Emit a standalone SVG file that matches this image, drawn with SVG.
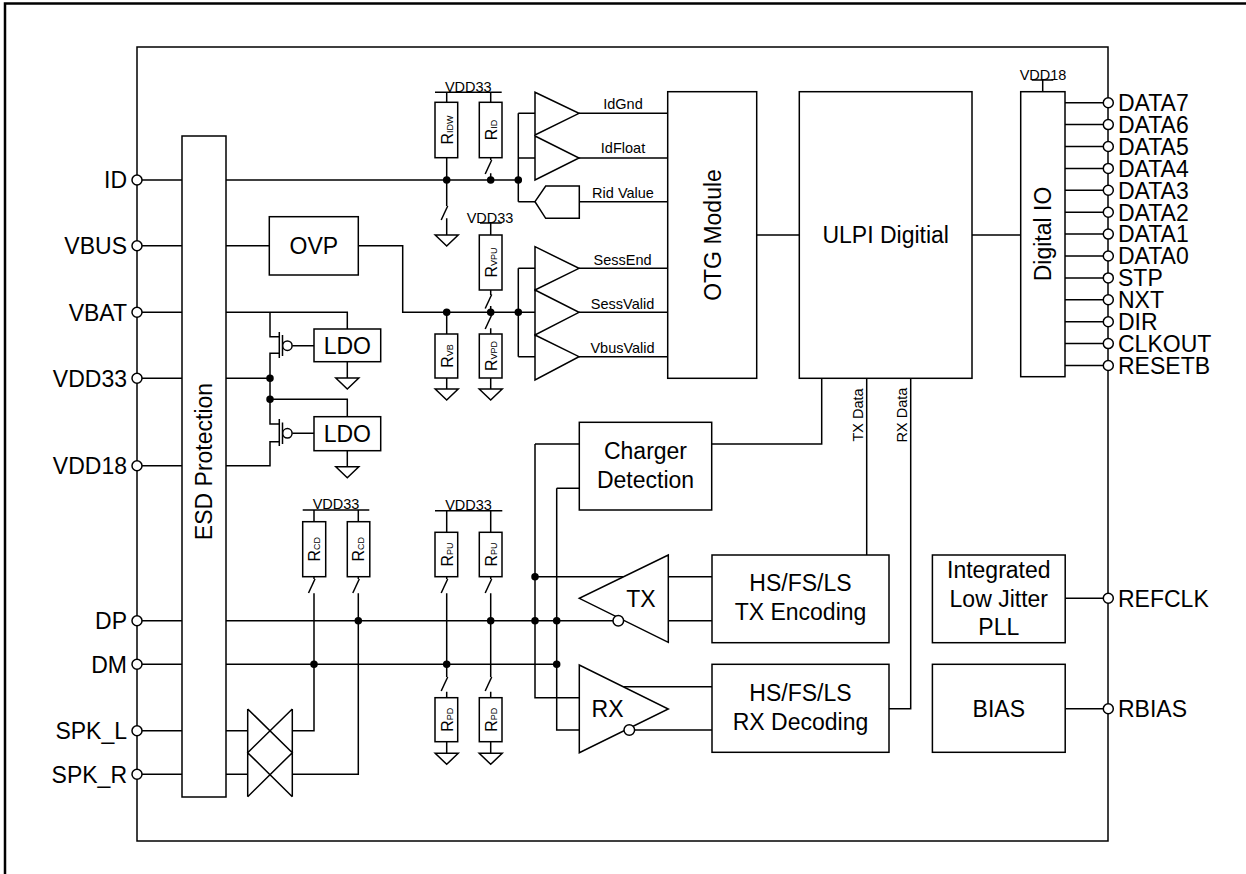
<svg xmlns="http://www.w3.org/2000/svg" xmlns:xlink="http://www.w3.org/1999/xlink" width="1246" height="874" viewBox="0 0 1246 874">
<style>
.w{fill:none;stroke:#000;stroke-width:1.5}
.b{fill:#fff;stroke:#000;stroke-width:1.5}
.d{fill:#000}
.p{fill:#fff;stroke:#000;stroke-width:1.5}
text{font-family:"Liberation Sans",Arial,sans-serif;fill:#000}
.t{font-size:23px}
.s{font-size:14.5px}
.r{font-size:16px}
.m{text-anchor:middle}
.e{text-anchor:end}
</style>
<defs>
<path id="gnd" d="M-11.5,0 H11.5 L0,11 Z" class="w"/>
<path id="sw" d="M1,0 L-5.5,14" class="w"/>
<circle id="pin" r="5" class="p"/>
<circle id="dot" r="3" class="d"/>
</defs>
<rect width="1246" height="874" fill="#fff"/>
<path d="M5,874 V3.5 H1246" fill="none" stroke="#000" stroke-width="2.5"/>
<rect id="chip" x="137" y="47" width="971" height="794" class="w"/>

<g id="connectors" class="w">
<!-- left pins -->
<path d="M142,180 H182 M142,245.7 H182 M142,312.3 H182 M142,378.3 H182 M142,465.7 H182 M142,620.7 H182 M142,664.3 H182 M142,730.7 H182 M142,774.3 H182"/>
<!-- ID -->
<path d="M226,180 H518.3"/>
<!-- VBUS -->
<path d="M226,245.7 H269.3 M358.3,245.7 H402.7 V312.3 H535"/>
<!-- VBAT / LDO -->
<path d="M226,312.3 H347.3 V329 M270,312.3 V336.7 H279.3 M279.3,332 V358 M279.3,353.3 H270 V424 H279.3 M279.3,419 V446 M279.3,441.7 H270 V465.7 H226 M226,378.3 H270 M270,399.3 H347.3 V416.7"/>
<path d="M282.5,335 V356 M282.5,422.5 V444 M292.3,345.7 H314 M292.3,433.3 H314"/>
<path d="M347.3,361.7 V378 M347.3,450.7 V466.7"/>
<!-- ID resistors -->
<path d="M435,92.3 H501.7 M446.7,92.3 V102.3 M490.7,92.3 V102.3 M446.7,157.7 V206 M446.7,218.3 V235 M490.7,157.7 V160 M490.7,173.3 V180"/>
<!-- comparator inputs -->
<path d="M518.3,113.3 V201.7 M518.3,113.3 H535 M518.3,158 H535 M518.3,201.7 H535 M518.3,268.3 V356.7 M518.3,268.3 H535 M518.3,356.7 H535"/>
<!-- comparator outputs -->
<path d="M579,113.3 H667.7 M579,158 H667.7 M579.3,201.7 H667.7 M579,268.3 H667.7 M579,312.3 H667.7 M579,356.7 H667.7"/>
<!-- VBUS resistors -->
<path d="M480,223 H501.7 M490.7,223 V235 M490.7,290 V295 M490.7,306 V315 M490.7,328.3 V334 M490.7,378 V389 M446.7,312.3 V334 M446.7,378 V389"/>
<!-- DP DM -->
<path d="M226,620.7 H613 M226,664.3 H556.7"/>
<!-- RCD -->
<path d="M302.7,510 H369.3 M314,510 V521.7 M358.3,510 V521.7 M314,576.7 V579 M358.3,576.7 V579 M314,593.3 V730.7 H292.3 M358.3,593.3 V774.3 H292.3"/>
<!-- X switch -->
<path d="M226,730.7 H247.7 M226,774.3 H247.7 M247.7,709 V796.7 M292.3,709 V796.7 M247.7,709 L292.3,752.7 L247.7,796.7 M292.3,709 L247.7,752.7 L292.3,796.7"/>
<!-- RPU / RPD -->
<path d="M435,510.7 H502.3 M446.7,510.7 V532.3 M490.7,510.7 V532.3 M446.7,576.7 V579 M490.7,576.7 V579 M446.7,593.3 V677 M490.7,593.3 V677 M446.7,691.7 V697.7 M490.7,691.7 V697.7 M446.7,741.7 V753.3 M490.7,741.7 V753.3"/>
<!-- charger / TX / RX -->
<path d="M535,444 H579.3 M535,444 V697.7 H579.3 M556.7,488.3 H579.3 M556.7,488.3 V730 H579.3 M535,576.7 H623.8 M668.3,576.7 H712 M668.3,620.7 H712 M623.2,686.7 H712 M634.6,730 H712"/>
<path d="M711.7,444 H821.7 V378.3 M866.7,378.3 V555 M910.7,378.3 V708.7 H889"/>
<!-- digital -->
<path d="M756.7,235 H799.3 M972,235 H1020.7 M1031.7,80 H1053.3 M1042.7,80 V91.7"/>
<path d="M1065,102.7 H1103.3 M1065,124.6 H1103.3 M1065,146.5 H1103.3 M1065,168.4 H1103.3 M1065,190.3 H1103.3 M1065,212.2 H1103.3 M1065,234.1 H1103.3 M1065,256 H1103.3 M1065,277.9 H1103.3 M1065,299.8 H1103.3 M1065,321.7 H1103.3 M1065,343.6 H1103.3 M1065,365.5 H1103.3"/>
<path d="M1065.2,598.3 H1103.3 M1065.2,708.7 H1103.3"/>
<!-- switches -->
<use xlink:href="#sw" x="446.7" y="206"/>
<use xlink:href="#sw" x="490.7" y="160"/>
<use xlink:href="#sw" x="490.7" y="294.5"/>
<use xlink:href="#sw" x="490.7" y="315"/>
<use xlink:href="#sw" x="314" y="579"/>
<use xlink:href="#sw" x="358.3" y="579"/>
<use xlink:href="#sw" x="446.7" y="579"/>
<use xlink:href="#sw" x="490.7" y="579"/>
<use xlink:href="#sw" x="446.7" y="677"/>
<use xlink:href="#sw" x="490.7" y="677"/>
<!-- grounds -->
<use xlink:href="#gnd" x="347.3" y="378"/>
<use xlink:href="#gnd" x="347.3" y="466.7"/>
<use xlink:href="#gnd" x="446.7" y="235"/>
<use xlink:href="#gnd" x="446.7" y="389"/>
<use xlink:href="#gnd" x="490.7" y="389"/>
<use xlink:href="#gnd" x="446.7" y="753.3"/>
<use xlink:href="#gnd" x="490.7" y="753.3"/>
<!-- dots -->
<use xlink:href="#dot" x="270" y="378.3"/>
<use xlink:href="#dot" x="270" y="399.3"/>
<use xlink:href="#dot" x="446.7" y="180"/>
<use xlink:href="#dot" x="490.7" y="180"/>
<use xlink:href="#dot" x="518.3" y="180"/>
<use xlink:href="#dot" x="446.7" y="312.3"/>
<use xlink:href="#dot" x="490.7" y="312.3"/>
<use xlink:href="#dot" x="518.3" y="312.3"/>
<use xlink:href="#dot" x="314" y="664.3"/>
<use xlink:href="#dot" x="358.3" y="620.7"/>
<use xlink:href="#dot" x="446.7" y="664.3"/>
<use xlink:href="#dot" x="490.7" y="620.7"/>
<use xlink:href="#dot" x="535" y="576.7"/>
<use xlink:href="#dot" x="535" y="620.7"/>
<use xlink:href="#dot" x="556.7" y="620.7"/>
<use xlink:href="#dot" x="556.7" y="664.3"/>
</g>

<g id="pins-left">
<use xlink:href="#pin" x="137" y="180"/><text class="t e" x="127" y="188">ID</text>
<use xlink:href="#pin" x="137" y="245.7"/><text class="t e" x="127" y="254">VBUS</text>
<use xlink:href="#pin" x="137" y="312.3"/><text class="t e" x="127" y="320.5">VBAT</text>
<use xlink:href="#pin" x="137" y="378.3"/><text class="t e" x="127" y="386.5">VDD33</text>
<use xlink:href="#pin" x="137" y="465.7"/><text class="t e" x="127" y="474">VDD18</text>
<use xlink:href="#pin" x="137" y="620.7"/><text class="t e" x="127" y="629">DP</text>
<use xlink:href="#pin" x="137" y="664.3"/><text class="t e" x="127" y="672.5">DM</text>
<use xlink:href="#pin" x="137" y="730.7"/><text class="t e" x="127" y="739">SPK_L</text>
<use xlink:href="#pin" x="137" y="774.3"/><text class="t e" x="127" y="782.5">SPK_R</text>
</g>

<g id="pins-right">
<use xlink:href="#pin" x="1108.3" y="102.7"/><text class="t" x="1118" y="111">DATA7</text>
<use xlink:href="#pin" x="1108.3" y="124.6"/><text class="t" x="1118" y="132.9">DATA6</text>
<use xlink:href="#pin" x="1108.3" y="146.5"/><text class="t" x="1118" y="154.8">DATA5</text>
<use xlink:href="#pin" x="1108.3" y="168.4"/><text class="t" x="1118" y="176.7">DATA4</text>
<use xlink:href="#pin" x="1108.3" y="190.3"/><text class="t" x="1118" y="198.6">DATA3</text>
<use xlink:href="#pin" x="1108.3" y="212.2"/><text class="t" x="1118" y="220.5">DATA2</text>
<use xlink:href="#pin" x="1108.3" y="234.1"/><text class="t" x="1118" y="242.4">DATA1</text>
<use xlink:href="#pin" x="1108.3" y="256"/><text class="t" x="1118" y="264.3">DATA0</text>
<use xlink:href="#pin" x="1108.3" y="277.9"/><text class="t" x="1118" y="286.2">STP</text>
<use xlink:href="#pin" x="1108.3" y="299.8"/><text class="t" x="1118" y="308.1">NXT</text>
<use xlink:href="#pin" x="1108.3" y="321.7"/><text class="t" x="1118" y="330">DIR</text>
<use xlink:href="#pin" x="1108.3" y="343.6"/><text class="t" x="1118" y="351.9">CLKOUT</text>
<use xlink:href="#pin" x="1108.3" y="365.5"/><text class="t" x="1118" y="373.8">RESETB</text>
<use xlink:href="#pin" x="1108.3" y="598.3"/><text class="t" x="1118" y="606.6">REFCLK</text>
<use xlink:href="#pin" x="1108.3" y="708.7"/><text class="t" x="1118" y="717">RBIAS</text>
</g>

<g id="esd"><rect x="182" y="136" width="44" height="661" class="b"/><text class="t m" transform="translate(211.5,461.5) rotate(-90)">ESD Protection</text></g>
<g id="ovp"><rect x="269.3" y="216.7" width="89" height="58.3" class="b"/><text class="t m" x="313.8" y="254.3">OVP</text></g>
<g id="ldo1"><rect x="314" y="329" width="66.7" height="32.7" class="b"/><text class="t m" x="347.3" y="354">LDO</text><circle cx="287.4" cy="345.7" r="4.7" class="p"/></g>
<g id="ldo2"><rect x="314" y="416.7" width="66.7" height="34" class="b"/><text class="t m" x="347.3" y="442">LDO</text><circle cx="287.4" cy="433.3" r="4.7" class="p"/></g>

<g id="vdd33-a"><text class="s m" x="468.3" y="91.5">VDD33</text></g>
<g id="vdd33-b"><text class="s m" x="490" y="222.5">VDD33</text></g>
<g id="vdd33-c"><text class="s m" x="336" y="509.3">VDD33</text></g>
<g id="vdd33-d"><text class="s m" x="468.5" y="509.8">VDD33</text></g>
<g id="vdd18"><text class="s m" x="1043" y="79.8">VDD18</text></g>

<g id="r-idw"><rect x="435" y="102.3" width="22.7" height="55.4" class="b"/><text class="r m" transform="translate(452.5,130) rotate(-90)">R<tspan font-size="9">IDW</tspan></text></g>
<g id="r-id"><rect x="479.3" y="102.3" width="22.7" height="55.4" class="b"/><text class="r m" transform="translate(496.5,130) rotate(-90)">R<tspan font-size="9">ID</tspan></text></g>
<g id="r-vpu"><rect x="479.3" y="235" width="22.7" height="55" class="b"/><text class="r m" transform="translate(496.5,262.5) rotate(-90)">R<tspan font-size="9">VPU</tspan></text></g>
<g id="r-vb"><rect x="435" y="334" width="22.7" height="44" class="b"/><text class="r m" transform="translate(452.5,356) rotate(-90)">R<tspan font-size="9">VB</tspan></text></g>
<g id="r-vpd"><rect x="479.3" y="334" width="22.7" height="44" class="b"/><text class="r m" transform="translate(496.5,356) rotate(-90)">R<tspan font-size="9">VPD</tspan></text></g>
<g id="r-cd1"><rect x="302.7" y="521.7" width="23" height="55" class="b"/><text class="r m" transform="translate(320,549.2) rotate(-90)">R<tspan font-size="9">CD</tspan></text></g>
<g id="r-cd2"><rect x="347.3" y="521.7" width="22.5" height="55" class="b"/><text class="r m" transform="translate(364.3,549.2) rotate(-90)">R<tspan font-size="9">CD</tspan></text></g>
<g id="r-pu1"><rect x="435" y="532.3" width="22.7" height="44.4" class="b"/><text class="r m" transform="translate(452.5,554.5) rotate(-90)">R<tspan font-size="9">PU</tspan></text></g>
<g id="r-pu2"><rect x="479.3" y="532.3" width="22.7" height="44.4" class="b"/><text class="r m" transform="translate(496.5,554.5) rotate(-90)">R<tspan font-size="9">PU</tspan></text></g>
<g id="r-pd1"><rect x="435" y="697.7" width="22.7" height="44" class="b"/><text class="r m" transform="translate(452.5,719.7) rotate(-90)">R<tspan font-size="9">PD</tspan></text></g>
<g id="r-pd2"><rect x="479.3" y="697.7" width="22.7" height="44" class="b"/><text class="r m" transform="translate(496.5,719.7) rotate(-90)">R<tspan font-size="9">PD</tspan></text></g>

<g id="cmp-idgnd"><path d="M535,92.3 L579,113.3 L535,135 Z" class="b"/><text class="s m" x="623" y="108.5">IdGnd</text></g>
<g id="cmp-idfloat"><path d="M535,136 L579,158 L535,180 Z" class="b"/><text class="s m" x="623" y="153.3">IdFloat</text></g>
<g id="rid-value"><path d="M535,201.7 L545.7,186 H579.3 V218.3 H545.7 Z" class="b"/><text class="s m" x="623" y="197.5">Rid Value</text></g>
<g id="cmp-sessend"><path d="M535,246.7 L579,268.3 L535,290 Z" class="b"/><text class="s m" x="622.5" y="264.5">SessEnd</text></g>
<g id="cmp-sessvalid"><path d="M535,290 L579,312.3 L535,335 Z" class="b"/><text class="s m" x="622.5" y="308.5">SessValid</text></g>
<g id="cmp-vbusvalid"><path d="M535,335 L579,356.7 L535,380 Z" class="b"/><text class="s m" x="622.5" y="352.7">VbusValid</text></g>

<g id="otg"><rect x="667.7" y="91.7" width="89" height="286.6" class="b"/><text class="t m" transform="translate(720.5,235) rotate(-90)">OTG Module</text></g>
<g id="ulpi"><rect x="799.3" y="91.7" width="172.7" height="286.6" class="b"/><text class="t m" x="885.7" y="243">ULPI Digitial</text></g>
<g id="digio"><rect x="1020.7" y="91.7" width="44.3" height="285" class="b"/><text class="t m" transform="translate(1051,234) rotate(-90)">Digital IO</text></g>
<g id="txdata-label"><text class="s m" transform="translate(863,415) rotate(-90)">TX Data</text></g>
<g id="rxdata-label"><text class="s m" transform="translate(906.7,415) rotate(-90)">RX Data</text></g>

<g id="charger"><rect x="579.3" y="422.3" width="132.4" height="87.7" class="b"/><text class="t m" x="645.5" y="458.5">Charger</text><text class="t m" x="645.5" y="488.3">Detection</text></g>
<g id="tx"><path d="M668.3,555 V642.3 L579.3,598.3 Z" class="b"/><circle cx="618.3" cy="620.7" r="5.3" class="p"/><text class="t m" x="641" y="606.7">TX</text></g>
<g id="rx"><path d="M579.3,665 V752.7 L668.3,709 Z" class="b"/><circle cx="629.3" cy="730" r="5.3" class="p"/><text class="t m" x="607.5" y="716.7">RX</text></g>
<g id="tx-enc"><rect x="712" y="555" width="177" height="87.7" class="b"/><text class="t m" x="800.5" y="590.8">HS/FS/LS</text><text class="t m" x="800.5" y="619.8">TX Encoding</text></g>
<g id="rx-dec"><rect x="712" y="664.3" width="177" height="88" class="b"/><text class="t m" x="800.5" y="700.5">HS/FS/LS</text><text class="t m" x="800.5" y="729.8">RX Decoding</text></g>
<g id="pll"><rect x="932.4" y="555" width="132.8" height="87.7" class="b"/><text class="t m" x="998.8" y="578">Integrated</text><text class="t m" x="998.8" y="606.7">Low Jitter</text><text class="t m" x="998.8" y="635.4">PLL</text></g>
<g id="bias"><rect x="932.4" y="664.3" width="132.8" height="88" class="b"/><text class="t m" x="998.8" y="717">BIAS</text></g>
</svg>
